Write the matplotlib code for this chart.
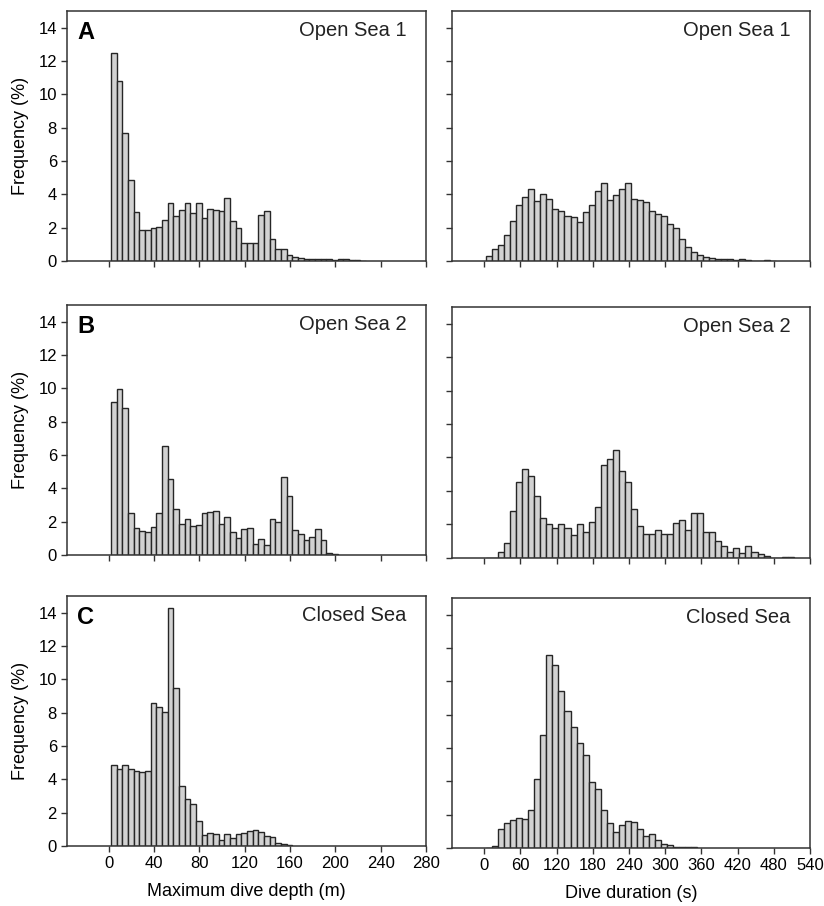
import numpy as np
import matplotlib.pyplot as plt

plt.rcParams['font.family'] = ['Liberation Sans', 'DejaVu Sans']

# frequency (%) per 5 m depth bin, first bin starts at 2 m
depth_start = 2
depth_width = 5
depth_os1 = [12.46, 10.82, 7.66, 4.84, 2.94, 1.84, 1.84, 1.96, 2.04, 2.44,
             3.5, 2.68, 3.04, 3.5, 2.86, 3.46, 2.56, 3.1, 3.04, 2.98,
             3.8, 2.42, 1.96, 1.1, 1.1, 1.1, 2.76, 3.0, 1.3, 0.7,
             0.7, 0.36, 0.22, 0.16, 0.14, 0.12, 0.12, 0.1, 0.1, 0.08,
             0.12, 0.1, 0.06, 0.05, 0.03]
depth_os2 = [9.2, 9.94, 8.84, 2.54, 1.6, 1.46, 1.38, 1.66, 2.54, 6.56,
             4.58, 2.74, 1.84, 2.14, 1.74, 1.8, 2.54, 2.6, 2.66, 1.84,
             2.26, 1.4, 1.0, 1.54, 1.6, 0.68, 0.94, 0.6, 2.14, 2.0,
             4.7, 3.54, 1.48, 1.28, 0.88, 1.06, 1.54, 0.88, 0.1, 0.06]
depth_cs = [4.88, 4.6, 4.88, 4.62, 4.5, 4.46, 4.5, 8.58, 8.34, 8.02,
            14.3, 9.48, 3.6, 2.84, 2.54, 1.52, 0.68, 0.78, 0.72, 0.38,
            0.72, 0.48, 0.72, 0.76, 0.9, 0.94, 0.84, 0.6, 0.52, 0.18,
            0.1, 0.04]

# frequency (%) per 10 s duration bin, first bin starts at 3 s
dur_start = 3
dur_width = 10
dur_os1 = [0.3, 0.74, 0.94, 1.54, 2.38, 3.38, 3.82, 4.32, 3.62, 4.0,
           3.7, 3.1, 3.0, 2.72, 2.66, 2.36, 2.92, 3.36, 4.2, 4.7,
           3.68, 3.94, 4.3, 4.7, 3.74, 3.66, 3.56, 2.98, 2.8, 2.7,
           2.24, 2.0, 1.3, 0.84, 0.52, 0.36, 0.26, 0.2, 0.12, 0.12,
           0.12, 0.06, 0.12, 0.06, 0.02, 0.02, 0.06, 0.02]
dur_os2 = [0, 0, 0.36, 0.86, 2.82, 4.5, 5.3, 4.9, 3.7, 2.4,
           2.0, 1.76, 2.0, 1.76, 1.36, 2.0, 1.54, 2.16, 3.02, 5.56,
           5.9, 6.44, 5.16, 4.5, 2.9, 1.9, 1.44, 1.44, 1.64, 1.4,
           1.4, 2.1, 2.24, 1.64, 2.7, 2.7, 1.56, 1.56, 1.0, 0.7,
           0.36, 0.6, 0.3, 0.7, 0.36, 0.2, 0.1, 0, 0, 0.04, 0.06]
dur_cs = [0, 0.1, 1.14, 1.5, 1.66, 1.78, 1.76, 2.28, 4.14, 6.76,
          11.56, 11.0, 9.42, 8.24, 7.26, 6.3, 5.58, 3.98, 3.52, 2.28,
          1.5, 0.94, 1.4, 1.6, 1.54, 1.14, 0.7, 0.84, 0.5, 0.24,
          0.16, 0.08, 0.08, 0.06, 0.06]

sites = ['Open Sea 1', 'Open Sea 2', 'Closed Sea']
letters = ['A', 'B', 'C']
depth_data = [depth_os1, depth_os2, depth_cs]
dur_data = [dur_os1, dur_os2, dur_cs]

W, H = 824, 906
fig = plt.figure(figsize=(W / 100, H / 100), dpi=100)

def px_axes(x0, y0, x1, y1):
    return fig.add_axes([x0 / W, 1 - y1 / H, (x1 - x0) / W, (y1 - y0) / H])

left_rows = [(11, 261), (305, 555), (596, 846)]
right_rows = [(11, 261), (307.5, 557.5), (598, 848)]

bar_fc = '#d2d2d2'
bar_ec = '#262626'
spine_c = '#333333'

def style(ax):
    for s in ax.spines.values():
        s.set_color(spine_c)
        s.set_linewidth(1.1)
    ax.tick_params(direction='out', length=4, width=1, color=spine_c,
                   labelsize=12, pad=3)
    ax.set_ylim(0, 15)
    ax.set_yticks(np.arange(0, 15, 2))

for i in range(3):
    # depth panel
    ax = px_axes(66.7, left_rows[i][0], 426, left_rows[i][1])
    vals = np.array(depth_data[i])
    edges = depth_start + depth_width * np.arange(len(vals))
    ax.bar(edges, vals, width=depth_width, align='edge', color=bar_fc,
           edgecolor=bar_ec, linewidth=1.0)
    style(ax)
    ax.set_xlim(-37, 280)
    ax.set_xticks(np.arange(0, 281, 40))
    ax.set_ylabel('Frequency (%)', fontsize=13, labelpad=7)
    ax.text(0.03, 0.96, letters[i], transform=ax.transAxes, fontsize=17,
            fontweight='bold', va='top', ha='left')
    ax.text(0.945, 0.96, sites[i], transform=ax.transAxes, fontsize=14.5,
            va='top', ha='right', color='#222222')
    if i < 2:
        ax.set_xticklabels([])
    else:
        ax.set_xlabel('Maximum dive depth (m)', fontsize=13, labelpad=9)

    # duration panel
    ax = px_axes(451.7, right_rows[i][0], 810, right_rows[i][1])
    vals = np.array(dur_data[i])
    edges = dur_start + dur_width * np.arange(len(vals))
    ax.bar(edges, vals, width=dur_width, align='edge', color=bar_fc,
           edgecolor=bar_ec, linewidth=1.0)
    style(ax)
    ax.set_xlim(-54, 540)
    ax.set_xticks(np.arange(0, 541, 60))
    ax.set_yticklabels([])
    ax.text(0.945, 0.96, sites[i], transform=ax.transAxes, fontsize=14.5,
            va='top', ha='right', color='#222222')
    if i < 2:
        ax.set_xticklabels([])
    else:
        ax.set_xlabel('Dive duration (s)', fontsize=13, labelpad=9)

fig.savefig('out.png', dpi=100)
